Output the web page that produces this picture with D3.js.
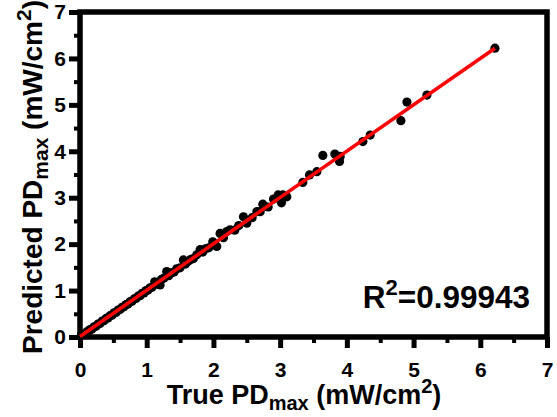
<!DOCTYPE html>
<html>
<head>
<meta charset="utf-8">
<script src="https://cdn.jsdelivr.net/npm/d3@7"></script>
<style>
  body { margin: 0; background: #fff; }
  svg text { font-family: Arial, "Liberation Sans", sans-serif; font-weight: bold; fill: #000; }
</style>
</head>
<body>
<svg id="chart" width="557" height="417" viewBox="0 0 557 417"></svg>
<script>
// measured (true) vs predicted PDmax, mW/cm2
const trueVals = [0.02,0.05,0.08,0.10,0.13,0.15,0.18,0.21,0.24,0.27,0.30,0.33,0.36,0.39,0.42,0.45,0.48,0.51,0.54,0.57,
  0.60,0.63,0.66,0.69,0.72,0.75,0.78,0.81,0.84,0.87,0.90,0.93,0.96,0.99,1.02,1.05,1.08,1.12,1.15,1.20,
  1.22,1.26,1.30,1.33,1.37,1.41,1.45,1.50,1.55,1.58,1.62,1.66,1.70,1.75,1.80,1.84,1.88,1.93,1.99,2.05,
  2.10,2.15,2.20,2.25,2.32,2.38,2.45,2.50,2.58,2.65,2.70,2.74,2.76,2.82,2.90,2.97,3.02,3.04,3.10,3.34,
  3.44,3.55,3.64,3.82,3.89,3.90,4.24,4.35,4.81,4.90,5.20,6.22];
const predVals = [0.03,0.06,0.07,0.11,0.12,0.16,0.17,0.22,0.23,0.28,0.29,0.34,0.35,0.40,0.41,0.46,0.47,0.52,0.53,0.58,
  0.59,0.64,0.65,0.70,0.71,0.76,0.77,0.82,0.83,0.88,0.89,0.94,0.95,1.00,1.01,1.06,1.07,1.19,1.14,1.12,
  1.24,1.27,1.41,1.32,1.38,1.40,1.47,1.49,1.66,1.57,1.63,1.67,1.69,1.77,1.88,1.83,1.90,1.92,2.05,1.95,
  2.23,2.14,2.27,2.31,2.30,2.40,2.59,2.45,2.57,2.70,2.70,2.86,2.82,2.80,2.97,3.06,2.89,3.06,3.02,3.33,
  3.49,3.56,3.91,3.94,3.78,3.89,4.21,4.35,4.66,5.06,5.21,6.22];
const fitLine = [[0, 0.01], [6.22, 6.22]];
const ticks = [0, 1, 2, 3, 4, 5, 6, 7];
const minorTicks = [0.5, 1.5, 2.5, 3.5, 4.5, 5.5, 6.5];
const r2Label = "0.99943";

const svg = d3.select("#chart");
const x = d3.scaleLinear().domain([0, 7]).range([80, 547]);
const y = d3.scaleLinear().domain([0, 7]).range([337, 12]);

const points = trueVals.map((t, i) => ({t: t, p: predVals[i]}));

// frame
svg.append("rect")
  .attr("x", x(0)).attr("y", y(7))
  .attr("width", x(7) - x(0)).attr("height", y(0) - y(7))
  .attr("fill", "none").attr("stroke", "#000").attr("stroke-width", 5.5);

// x axis
const xAxis = svg.append("g").attr("transform", `translate(0,${y(0)})`)
  .call(d3.axisBottom(x).tickValues(ticks).tickSize(11).tickPadding(14).tickFormat(d3.format("d")));
xAxis.select(".domain").remove();
xAxis.selectAll(".tick line").attr("stroke-width", 5);
xAxis.selectAll(".tick text").attr("font-size", 21);
const xMinor = svg.append("g").attr("transform", `translate(0,${y(0)})`)
  .call(d3.axisBottom(x).tickValues(minorTicks).tickSize(6).tickFormat(""));
xMinor.select(".domain").remove();
xMinor.selectAll(".tick line").attr("stroke-width", 4);

// y axis
const yAxis = svg.append("g").attr("transform", `translate(${x(0)},0)`)
  .call(d3.axisLeft(y).tickValues(ticks).tickSize(11).tickPadding(3).tickFormat(d3.format("d")));
yAxis.select(".domain").remove();
yAxis.selectAll(".tick line").attr("stroke-width", 5);
yAxis.selectAll(".tick text").attr("font-size", 21);
const yMinor = svg.append("g").attr("transform", `translate(${x(0)},0)`)
  .call(d3.axisLeft(y).tickValues(minorTicks).tickSize(6).tickFormat(""));
yMinor.select(".domain").remove();
yMinor.selectAll(".tick line").attr("stroke-width", 4);

// points
svg.append("g").selectAll("circle")
  .data(points)
  .enter()
  .append("circle")
  .attr("cx", d => x(d.t))
  .attr("cy", d => y(d.p))
  .attr("r", 4.6)
  .attr("fill", "#000");

// fit line
svg.append("line")
  .attr("x1", x(fitLine[0][0])).attr("y1", y(fitLine[0][1]))
  .attr("x2", x(fitLine[1][0])).attr("y2", y(fitLine[1][1]))
  .attr("stroke", "#ff0000").attr("stroke-width", 3.5);

// titles
const xt = svg.append("text").attr("x", 304).attr("y", 404)
  .attr("text-anchor", "middle").attr("font-size", 27);
xt.append("tspan").text("True PD");
xt.append("tspan").attr("font-size", 20).attr("dy", 6).text("max");
xt.append("tspan").attr("dy", -6).text(" (mW/cm");
xt.append("tspan").attr("font-size", 20).attr("dy", -11).text("2");
xt.append("tspan").attr("dy", 11).text(")");

const yt = svg.append("text").attr("transform", "translate(42,177) rotate(-90)")
  .attr("text-anchor", "middle").attr("font-size", 28);
yt.append("tspan").text("Predicted PD");
yt.append("tspan").attr("font-size", 21).attr("dy", 6).text("max");
yt.append("tspan").attr("dy", -6).text(" (mW/cm");
yt.append("tspan").attr("font-size", 21).attr("dy", -11).text("2");
yt.append("tspan").attr("dy", 11).text(")");

const rt = svg.append("text").attr("x", 530).attr("y", 308)
  .attr("text-anchor", "end").attr("font-size", 31.5);
rt.append("tspan").text("R");
rt.append("tspan").attr("font-size", 22).attr("dy", -13).text("2");
rt.append("tspan").attr("dy", 13).text("=" + r2Label);
</script>
</body>
</html>
